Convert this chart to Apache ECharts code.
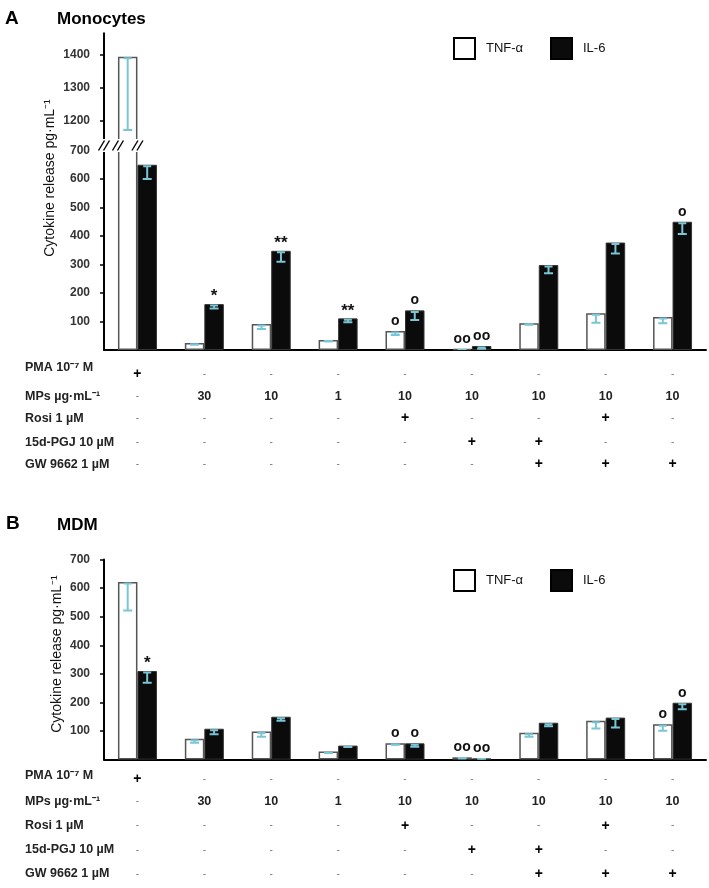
<!DOCTYPE html>
<html><head><meta charset="utf-8">
<script src="https://cdn.jsdelivr.net/npm/echarts@6/dist/echarts.min.js"></script>
<style>html,body{margin:0;padding:0;background:#fff}#c{width:709px;height:888px}</style>
</head><body><div id="c"></div>
<script>
// ---------- data ----------
const categories = ['PMA', 'MPs 30', 'MPs 10', 'MPs 1', 'MPs 10 + Rosi', 'MPs 10 + 15d-PGJ',
  'MPs 10 + 15d-PGJ + GW', 'MPs 10 + Rosi + GW', 'MPs 10 + GW'];
const seriesNames = ['TNF-α', 'IL-6'];

const monoTNF    = [1395, 25, 91, 35, 67, 4, 94, 129, 116];
const monoTNFErr = [222, 6, 17, 3, 14, 3, 4, 33, 22];
const monoIL6    = [650, 161, 348, 111, 139, 14, 298, 377, 450];
const monoIL6Err = [50, 15, 38, 14, 34, 10, 29, 38, 43];
const monoTNFSig = ['', '', '', '', 'o', 'oo', '', '', ''];
const monoIL6Sig = ['', '*', '**', '**', 'o', 'oo', '', '', 'o'];

const mdmTNF    = [622, 73, 98, 28, 57, 8, 94, 136, 124];
const mdmTNFErr = [100, 14, 18, 5, 4, 2, 14, 27, 23];
const mdmIL6    = [310, 108, 150, 49, 57, 4, 129, 147, 199];
const mdmIL6Err = [41, 19, 14, 5, 12, 2, 12, 35, 23];
const mdmTNFSig = ['', '', '', '', 'o', 'oo', '', '', 'o'];
const mdmIL6Sig = ['*', '', '', '', 'o', 'oo', '', '', 'o'];

const rowNames = ['PMA 10⁻⁷ M', 'MPs µg·mL⁻¹', 'Rosi 1 µM', '15d-PGJ 10 µM', 'GW 9662 1 µM'];
const rowPMA  = ['+', '-', '-', '-', '-', '-', '-', '-', '-'];
const rowMPs  = ['-', '30', '10', '1', '10', '10', '10', '10', '10'];
const rowRosi = ['-', '-', '-', '-', '+', '-', '-', '+', '-'];
const rowPGJ  = ['-', '-', '-', '-', '-', '+', '+', '-', '-'];
const rowGW   = ['-', '-', '-', '-', '-', '-', '+', '+', '+'];
const rows = [rowPMA, rowMPs, rowRosi, rowPGJ, rowGW];

const ticksMonoHigh = [1200, 1300, 1400];
const ticksMonoLow  = [100, 200, 300, 400, 500, 600, 700];
const ticksMDM      = [100, 200, 300, 400, 500, 600, 700];

const axisTitle = 'Cytokine release pg·mL⁻¹';

// ---------- style ----------
const FONT = "'Liberation Sans', Arial, sans-serif";
const BAR_W = 19.5;
const ERR_COLOR = '#79c6d6';
const GL = 104, GW = 602;

const chart = echarts.init(document.getElementById('c'), null, {renderer: 'canvas'});

function yAxisCfg(grid, min, max, ticks) {
  return {
    type: 'value', gridIndex: grid, min: min, max: max,
    axisLine: {show: true, lineStyle: {color: '#000', width: 2}},
    axisTick: {show: true, length: 4, customValues: ticks, lineStyle: {color: '#000', width: 1.5}},
    axisLabel: {customValues: ticks, fontFamily: FONT, fontSize: 12, fontWeight: 'bold', color: '#333', margin: 14,
      formatter: function (v) { return String(v); }},
    splitLine: {show: false}
  };
}
function mainX(grid, showLine) {
  return {
    type: 'category', gridIndex: grid, data: categories, boundaryGap: true,
    axisLine: {show: showLine, onZero: false, lineStyle: {color: '#000', width: 2}},
    axisTick: {show: false}, axisLabel: {show: false}, splitLine: {show: false}
  };
}
const CELL_RICH = {
  p: {fontFamily: FONT, fontSize: 14, fontWeight: 'bold', color: '#000'},
  d: {fontFamily: FONT, fontSize: 10, color: '#777'},
  n: {fontFamily: FONT, fontSize: 12.5, fontWeight: 'bold', color: '#222'}
};
function cell(v) {
  if (v === '+') return '{p|+}';
  if (v === '-') return '{d|-}';
  return '{n|' + v + '}';
}
function rowAxis(grid, row, offset) {
  return {
    type: 'category', gridIndex: grid, data: categories, position: 'bottom', offset: offset,
    axisLine: {show: false}, axisTick: {show: false}, splitLine: {show: false},
    axisLabel: {interval: 0, margin: 0, verticalAlign: 'middle',
      formatter: function (val, idx) { return cell(row[idx]); }, rich: CELL_RICH}
  };
}
const SIG_RICH = {
  s: {fontFamily: FONT, fontSize: 17, fontWeight: 'bold', color: '#111', lineHeight: 9},
  o: {fontFamily: FONT, fontSize: 14, fontWeight: 'bold', color: '#111'}
};
function sigLabel(sig) {
  return {
    show: true, position: 'top', distance: 3, rich: SIG_RICH,
    formatter: function (p) {
      const s = sig[p.dataIndex];
      if (!s) return '';
      return s.indexOf('*') >= 0 ? '{s|' + s + '}' : '{o|' + s + '}';
    }
  };
}
const TNF_STYLE = {color: '#ffffff', borderColor: '#555', borderWidth: 1.5};
const IL6_STYLE = {color: '#0b0b0b', borderColor: '#333', borderWidth: 1};

function bar(name, xi, yi, data, style, label) {
  return {
    type: 'bar', name: name, xAxisIndex: xi, yAxisIndex: yi, data: data,
    barWidth: BAR_W, barGap: '0%', itemStyle: style, clip: true,
    emphasis: {disabled: true}, label: label || {show: false}
  };
}
function errSeries(xi, yi, vals, errs, side, keep) {
  return {
    type: 'custom', xAxisIndex: xi, yAxisIndex: yi, z: 5, silent: true, clip: true,
    data: vals.map(function (v, i) { return [i, v, v - errs[i]]; }).filter(function (d) { return keep(d[1]); }),
    encode: {x: 0, y: [1, 2]},
    renderItem: function (params, api) {
      const top = api.coord([api.value(0), api.value(1)]);
      const bot = api.coord([api.value(0), api.value(2)]);
      const x = top[0] + side * BAR_W / 2;
      const st = {stroke: ERR_COLOR, lineWidth: 2};
      return {type: 'group', children: [
        {type: 'line', shape: {x1: x, y1: top[1] + 1.5, x2: x, y2: bot[1]}, style: st},
        {type: 'line', shape: {x1: x - 4, y1: top[1] + 1.5, x2: x + 4, y2: top[1] + 1.5}, style: st},
        {type: 'line', shape: {x1: x - 4.5, y1: bot[1], x2: x + 4.5, y2: bot[1]}, style: st}
      ]};
    }
  };
}
function legendItem(name, left, top, itemStyle) {
  return {
    left: left, top: top, padding: 0, icon: 'rect', itemWidth: 21, itemHeight: 21, selectedMode: false,
    data: [{name: name, itemStyle: itemStyle}],
    textStyle: {fontFamily: FONT, fontSize: 13, color: '#111', padding: [0, 0, 0, 6]}
  };
}

const hiKeep = function (v) { return v > 1120; };
const loKeep = function (v) { return v <= 720; };

// grids: 0 = A upper (break), 1 = A lower, 2 = B
const grids = [
  {left: GL, width: GW, top: 33.2, height: 114.2},
  {left: GL, width: GW, top: 350 - 205.2, height: 205.2},
  {left: GL, width: GW, top: 559.6, height: 200}
];
const offA = [24.5, 46.7, 68.3, 92.3, 114.3];
const offB = [19.4, 42.1, 66.1, 90.4, 114.4];
const labA = [367.7, 396.7, 418.3, 442.3, 464.3];
const labB = [776, 801.7, 825.7, 850, 874];

const xAxes = [mainX(0, false), mainX(1, true)];
rows.forEach(function (r, i) { xAxes.push(rowAxis(1, r, offA[i])); });
xAxes.push(mainX(2, true));           // index 7
rows.forEach(function (r, i) { xAxes.push(rowAxis(2, r, offB[i])); });

const yAxes = [
  yAxisCfg(0, 1120, 1466, ticksMonoHigh),
  yAxisCfg(1, 0, 720, ticksMonoLow),
  yAxisCfg(2, 0, 700, ticksMDM)
];

const series = [
  bar(seriesNames[0], 0, 0, monoTNF.map(function (v) { return hiKeep(v) ? v : '-'; }), TNF_STYLE),
  bar(seriesNames[1], 0, 0, monoIL6.map(function (v) { return hiKeep(v) ? v : '-'; }), IL6_STYLE),
  bar(seriesNames[0], 1, 1, monoTNF, TNF_STYLE, sigLabel(monoTNFSig)),
  bar(seriesNames[1], 1, 1, monoIL6, IL6_STYLE, sigLabel(monoIL6Sig)),
  bar(seriesNames[0], 7, 2, mdmTNF, TNF_STYLE, sigLabel(mdmTNFSig)),
  bar(seriesNames[1], 7, 2, mdmIL6, IL6_STYLE, sigLabel(mdmIL6Sig)),
  errSeries(0, 0, monoTNF, monoTNFErr, -1, hiKeep),
  errSeries(1, 1, monoTNF, monoTNFErr, -1, loKeep),
  errSeries(1, 1, monoIL6, monoIL6Err, 1, loKeep),
  errSeries(7, 2, mdmTNF, mdmTNFErr, -1, loKeep),
  errSeries(7, 2, mdmIL6, mdmIL6Err, 1, loKeep)
];

const legendTNF = {color: '#fff', borderColor: '#000', borderWidth: 2};
const legendIL6 = {color: '#0b0b0b', borderColor: '#000', borderWidth: 2};

function txt(x, y, text, font, extra) {
  const e = {type: 'text', x: x, y: y, z: 50, silent: true,
    style: Object.assign({text: text, font: font, fill: '#111', align: 'left', verticalAlign: 'middle'}, extra || {})};
  return e;
}

const staticGraphics = [
  txt(5, 19, 'A', 'bold 19px ' + FONT, {fill: '#000'}),
  txt(57, 19, 'Monocytes', 'bold 17px ' + FONT, {fill: '#000'}),
  txt(6, 524, 'B', 'bold 19px ' + FONT, {fill: '#000'}),
  txt(57, 525, 'MDM', 'bold 17px ' + FONT, {fill: '#000'}),
  Object.assign(txt(50, 178, axisTitle, '14px ' + FONT, {align: 'center'}), {rotation: Math.PI / 2}),
  Object.assign(txt(57, 654, axisTitle, '14px ' + FONT, {align: 'center'}), {rotation: Math.PI / 2})
];
rowNames.forEach(function (n, i) {
  staticGraphics.push(txt(25, labA[i], n, 'bold 12.5px ' + FONT, {fill: '#222'}));
  staticGraphics.push(txt(25, labB[i], n, 'bold 12.5px ' + FONT, {fill: '#222'}));
});

chart.setOption({
  animation: false,
  backgroundColor: '#fff',
  grid: grids,
  xAxis: xAxes,
  yAxis: yAxes,
  legend: [
    legendItem(seriesNames[0], 453, 37, legendTNF),
    legendItem(seriesNames[1], 550, 37, legendIL6),
    legendItem(seriesNames[0], 453, 569, legendTNF),
    legendItem(seriesNames[1], 550, 569, legendIL6)
  ],
  series: series,
  graphic: staticGraphics
});

// axis-break decoration computed from the chart's own scales
const pTop = chart.convertToPixel({gridIndex: 1}, [0, 720]);
const cx = pTop[0];
const yc = 145.5;
const breakEls = [{
  type: 'rect', z: 40, silent: true,
  shape: {x: GL - 6, y: yc - 6.5, width: cx + 6 - (GL - 6), height: 13},
  style: {fill: '#fff'}
}];
[GL, cx - BAR_W, cx].forEach(function (x) {
  [-2.5, 2.5].forEach(function (dx) {
    breakEls.push({type: 'line', z: 45, silent: true,
      shape: {x1: x + dx - 3, y1: yc + 5, x2: x + dx + 3, y2: yc - 5},
      style: {stroke: '#000', lineWidth: 1.4}});
  });
});
chart.setOption({graphic: staticGraphics.concat(breakEls)});
</script></body></html>
